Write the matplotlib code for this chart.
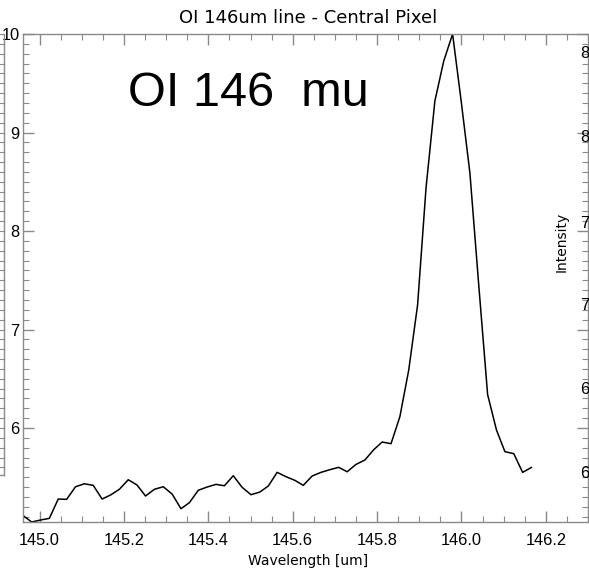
import numpy as np
import matplotlib
matplotlib.use('Agg')
import matplotlib.pyplot as plt
from matplotlib.lines import Line2D
from matplotlib.ticker import MultipleLocator

# wavelength grid [um] and intensity for the central pixel
wavelength = [144.961, 144.981, 145.002, 145.023, 145.044, 145.064, 145.085, 145.106,
              145.127, 145.148, 145.168, 145.189, 145.210, 145.231, 145.251, 145.272,
              145.293, 145.314, 145.335, 145.355, 145.376, 145.397, 145.418, 145.438,
              145.459, 145.480, 145.501, 145.522, 145.542, 145.563, 145.584, 145.605,
              145.625, 145.646, 145.667, 145.688, 145.709, 145.729, 145.750, 145.771,
              145.792, 145.812, 145.833, 145.854, 145.875, 145.896, 145.916, 145.937,
              145.958, 145.979, 145.999, 146.020, 146.041, 146.062, 146.083, 146.103,
              146.124, 146.145, 146.166]
intensity = [5.110, 5.046, 5.066, 5.083, 5.279, 5.276, 5.404, 5.434,
             5.418, 5.279, 5.320, 5.378, 5.475, 5.421, 5.310, 5.378,
             5.404, 5.330, 5.181, 5.242, 5.368, 5.401, 5.428, 5.414,
             5.516, 5.398, 5.323, 5.350, 5.411, 5.550, 5.506, 5.469,
             5.418, 5.513, 5.550, 5.577, 5.601, 5.556, 5.631, 5.675,
             5.780, 5.858, 5.841, 6.115, 6.589, 7.249, 8.437, 9.320,
             9.726, 10.000, 9.330, 8.590, 7.450, 6.340, 5.980, 5.760,
             5.740, 5.550, 5.600]

# labels of the neighbouring panel that show at the right edge
side_labels = ['8', '8', '7', '7', '6', '6']
side_label_y = [53, 138, 223, 306, 390, 473]

W, H = 589, 574
fig = plt.figure(figsize=(W / 100, H / 100), dpi=100)
ax = fig.add_axes([23 / W, 1 - 522 / H, (588 - 23) / W, (522 - 34) / H])

axcol = '#8a8a8a'
ax.plot(wavelength, intensity, color='black', lw=1.1)

ax.set_xlim(144.9605, 146.30)
ax.set_ylim(min(intensity), max(intensity))

ax.xaxis.set_major_locator(MultipleLocator(0.2))
ax.xaxis.set_minor_locator(MultipleLocator(0.05))
ax.yaxis.set_major_locator(MultipleLocator(1))
ax.yaxis.set_minor_locator(MultipleLocator(0.1))
ax.xaxis.set_major_formatter(plt.FormatStrFormatter('%.1f'))
ax.yaxis.set_major_formatter(plt.FormatStrFormatter('%d'))

for s in ax.spines.values():
    s.set_color(axcol)
    s.set_linewidth(1.0)

ax.tick_params(which='both', direction='in', top=True, right=True, color=axcol,
               labelfontfamily='Liberation Sans', labelsize=11.8)
ax.tick_params(which='major', length=8, width=1.0)
ax.tick_params(which='minor', length=4, width=0.8)
ax.tick_params(axis='x', which='major', pad=8)
ax.tick_params(axis='y', which='major', pad=2.5)

fig.text(308 / W, 1 - 18 / H, 'OI 146um line - Central Pixel', ha='center', va='center',
         fontsize=13, family='DejaVu Sans')
fig.text(308 / W, 1 - 561 / H, 'Wavelength [um]', ha='center', va='center',
         fontsize=10, family='DejaVu Sans')
fig.text(562 / W, 1 - 242 / H, 'Intensity', ha='center', va='center', rotation=90,
         fontsize=10, family='DejaVu Sans')
fig.text(128 / W, 1 - 106 / H, 'OI 146  mu', ha='left', va='baseline',
         fontsize=35, family='Liberation Sans')

for lab, yy in zip(side_labels, side_label_y):
    fig.text(580 / W, 1 - yy / H, lab, ha='left', va='center',
             fontsize=11.8, family='Liberation Sans')

# axis of the panel to the left
fig.add_artist(Line2D([3.5 / W, 3.5 / W], [1 - 34 / H, 1 - 475 / H],
                      transform=fig.transFigure, color=axcol, lw=1.0))
fig.add_artist(Line2D([0, 3.5 / W], [1 - 475 / H, 1 - 475 / H],
                      transform=fig.transFigure, color=axcol, lw=1.0))
for yy in np.arange(34, 475, 9.85):
    fig.add_artist(Line2D([0, 3.5 / W], [1 - yy / H, 1 - yy / H],
                          transform=fig.transFigure, color=axcol, lw=0.8))

fig.savefig('out.png', dpi=100)
